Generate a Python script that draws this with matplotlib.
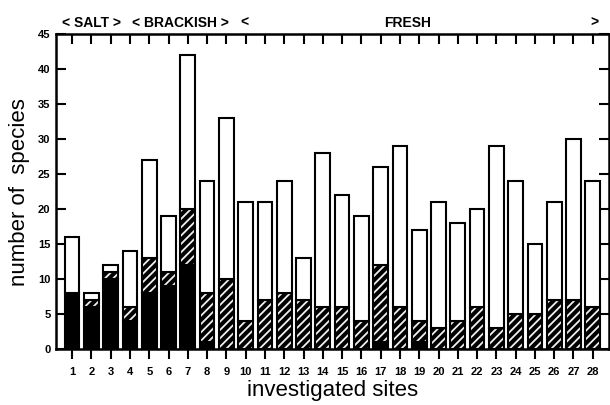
import matplotlib
matplotlib.use("Agg")
import matplotlib.pyplot as plt
import numpy as np

plt.rcParams['font.family'] = ['Liberation Sans', 'DejaVu Sans']
plt.rcParams['hatch.linewidth'] = 1.3

# species counts per site (bottom black, middle hatched, top open)
sites = list(range(1, 29))
black = [8, 6, 10, 4, 8, 9, 12, 1, 0, 0, 0, 0, 0, 0, 0, 0, 1, 0, 1, 0, 0, 0, 0, 0, 0, 0, 0, 0]
hatched = [0, 1, 1, 2, 5, 2, 8, 7, 10, 4, 7, 8, 7, 6, 6, 4, 11, 6, 3, 3, 4, 6, 3, 5, 5, 7, 7, 6]
total = [16, 8, 12, 14, 27, 19, 42, 24, 33, 21, 21, 24, 13, 28, 22, 19, 26, 29, 17, 21, 18, 20, 29, 24, 15, 21, 30, 24]

black = np.array(black)
hatched = np.array(hatched)
total = np.array(total)
open_part = total - black - hatched
x = np.array(sites)

fig = plt.figure(figsize=(6.1, 4.05), dpi=100)
ax = fig.add_axes([0.092, 0.138, 0.906, 0.778])

w = 0.76
lw = 1.5
ax.bar(x, black, w, color="black", edgecolor="black", linewidth=lw)
# hatched part: dark fill with light diagonal lines, then black outline on top
ax.bar(x, hatched, w, bottom=black, color="black", edgecolor="#f0f0f0", hatch="////", linewidth=0)
ax.bar(x, hatched, w, bottom=black, fill=False, edgecolor="black", linewidth=lw)
ax.bar(x, open_part, w, bottom=black + hatched, color="white", edgecolor="black", linewidth=lw)

ax.set_xlim(0.17, 28.83)
ax.set_ylim(0, 45)
ax.set_xticks(x)
ax.set_xticklabels([str(s) for s in sites], fontweight="bold", fontsize=8)
ax.set_yticks(range(0, 46, 5))
ax.set_yticklabels([str(v) for v in range(0, 46, 5)], fontweight="bold", fontsize=8)

ax.tick_params(axis="x", which="both", direction="out", length=7, width=1.5, top=False, pad=6)
ax.tick_params(axis="y", which="both", direction="in", length=7, width=1.5, right=True, pad=4)
# top ticks inward
secx = ax.secondary_xaxis("top")
secx.set_xticks(x)
secx.tick_params(direction="in", length=7, width=1.5, labeltop=False)
secx.spines["top"].set_visible(False)

for s in ax.spines.values():
    s.set_linewidth(1.8)

ax.set_xlabel("investigated sites", fontsize=16, labelpad=2)
ax.set_ylabel("number of  species", fontsize=16, labelpad=6)

tr = ax.get_xaxis_transform()
ax.text(2.0, 1.035, "< SALT >", transform=tr, ha="center", va="center", fontweight="bold", fontsize=10)
ax.text(6.6, 1.035, "< BRACKISH >", transform=tr, ha="center", va="center", fontweight="bold", fontsize=10)
ax.text(9.95, 1.035, "<", transform=tr, ha="center", va="center", fontweight="bold", fontsize=10)
ax.text(18.4, 1.035, "FRESH", transform=tr, ha="center", va="center", fontweight="bold", fontsize=10)
ax.text(28.1, 1.035, ">", transform=tr, ha="center", va="center", fontweight="bold", fontsize=10)

plt.savefig("out.png", dpi=100)
plt.close()
